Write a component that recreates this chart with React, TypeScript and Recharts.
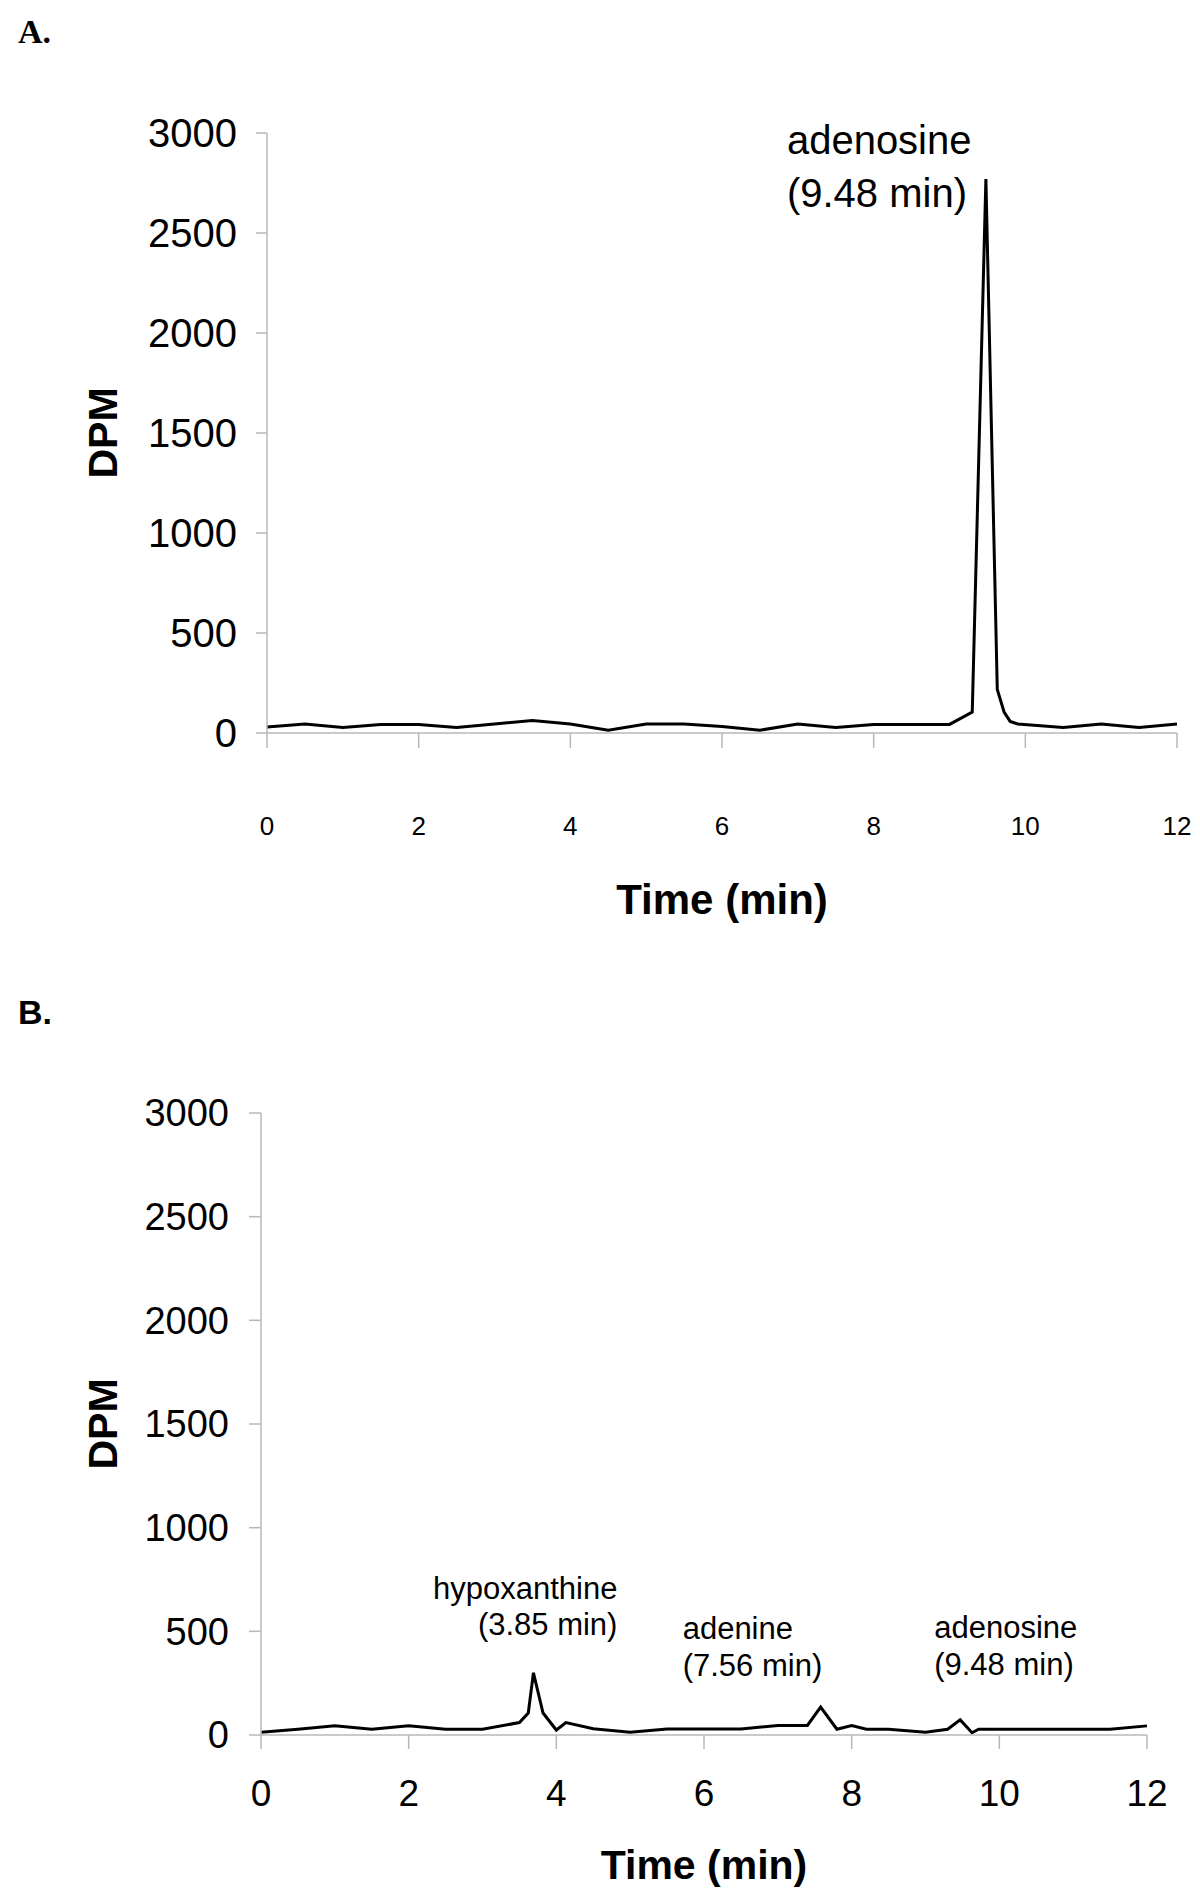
import React from 'react';
import { LineChart, Line, XAxis, YAxis, ReferenceDot, Label } from 'recharts';

const FONT = '"Liberation Sans", Arial, sans-serif';

// Panel A: time (min) and DPM
const timesA = [0, 0.5, 1, 1.5, 2, 2.5, 3, 3.5, 4, 4.5, 5, 5.5, 6, 6.5, 7, 7.5, 8, 8.5, 9, 9.3, 9.48, 9.63, 9.72, 9.8, 9.9, 10.5, 11, 11.5, 12];
const dpmA = [30, 45, 28, 43, 43, 28, 45, 62, 45, 14, 45, 45, 33, 14, 45, 28, 43, 43, 43, 105, 2770, 218, 105, 58, 45, 28, 45, 28, 45];

// Panel B: time (min) and DPM
const timesB = [0, 0.5, 1, 1.5, 2, 2.5, 3, 3.5, 3.62, 3.69, 3.82, 4.0, 4.13, 4.5, 5, 5.5, 6, 6.5, 7, 7.4, 7.58, 7.8, 8, 8.2, 8.5, 9, 9.3, 9.47, 9.63, 9.72, 10, 10.5, 11, 11.5, 12];
const dpmB = [13, 28, 44, 28, 44, 28, 28, 60, 106, 300, 106, 24, 60, 30, 13, 29, 29, 29, 46, 46, 135, 28, 46, 28, 28, 13, 28, 73, 11, 28, 28, 28, 28, 28, 44];

const xTicks = [0, 2, 4, 6, 8, 10, 12];
const yTicks = [0, 500, 1000, 1500, 2000, 2500, 3000];

// Annotations: peak position and text lines
const annA = [{ t: 9.48, v: 2770, lines: ['adenosine', '(9.48 min)'] }];
const annB = [
  { t: 3.69, v: 300, lines: ['hypoxanthine', '(3.85 min)'] },
  { t: 7.58, v: 135, lines: ['adenine', '(7.56 min)'] },
  { t: 9.47, v: 73, lines: ['adenosine', '(9.48 min)'] },
];

const dataA = timesA.map((t, i) => ({ t, dpm: dpmA[i] }));
const dataB = timesB.map((t, i) => ({ t, dpm: dpmB[i] }));

const AXIS_COLOR = '#b8b8b8';

const annOffsetsB = [
  { dx: 84, dy1: -84, dy2: -48, anchor: 'end' },
  { dx: -138, dy1: -79, dy2: -42, anchor: 'start' },
  { dx: -26, dy1: -92, dy2: -55, anchor: 'start' },
];

export default function App() {
  return (
    <div style={{ position: 'absolute', left: 0, top: 0, width: 1200, height: 1893, background: '#fff', fontFamily: FONT }}>
      <div style={{ position: 'absolute', left: 18, top: 12, fontFamily: '"Liberation Serif", "Times New Roman", serif', fontWeight: 'bold', fontSize: 34, lineHeight: '40px' }}>A.</div>
      <div style={{ position: 'absolute', left: 18, top: 992, fontFamily: FONT, fontWeight: 'bold', fontSize: 34, lineHeight: '40px' }}>B.</div>

      <div style={{ position: 'absolute', left: 0, top: 0 }}>
        <LineChart width={1200} height={950} data={dataA} margin={{ top: 133, right: 23, bottom: 0, left: 0 }}>
          <XAxis
            dataKey="t"
            type="number"
            domain={[0, 12]}
            ticks={xTicks}
            height={217}
            stroke={AXIS_COLOR}
            strokeWidth={1.5}
            tickSize={15}
            tickMargin={69}
            tick={{ fill: '#000', fontSize: 26, fontFamily: FONT }}
          >
            <Label
              content={(p: any) => {
                const vb = p.viewBox;
                return (
                  <text x={vb.x + vb.width / 2} y={vb.y + 166} textAnchor="middle" dominantBaseline="central" fontSize={42} fontWeight="bold" fontFamily={FONT} fill="#000">
                    Time (min)
                  </text>
                );
              }}
            />
          </XAxis>
          <YAxis
            type="number"
            domain={[0, 3000]}
            ticks={yTicks}
            width={267}
            stroke={AXIS_COLOR}
            strokeWidth={1.5}
            tickSize={11}
            tickMargin={19}
            tick={{ fill: '#000', fontSize: 40, fontFamily: FONT }}
          >
            <Label
              content={(p: any) => {
                const vb = p.viewBox;
                const cy = vb.y + vb.height / 2;
                return (
                  <text x={103} y={cy} transform={`rotate(-90 103 ${cy})`} textAnchor="middle" dominantBaseline="central" fontSize={41} fontWeight="bold" fontFamily={FONT} fill="#000">
                    DPM
                  </text>
                );
              }}
            />
          </YAxis>
          <Line type="linear" dataKey="dpm" stroke="#000" strokeWidth={3} dot={false} isAnimationActive={false} />
          {annA.map((a, i) => (
            <ReferenceDot
              key={i}
              x={a.t}
              y={a.v}
              ifOverflow="visible"
              shape={(p: any) => (
                <g>
                  <text x={p.cx - 199} y={p.cy - 39} textAnchor="start" dominantBaseline="central" fontSize={40} fontFamily={FONT} fill="#000">{a.lines[0]}</text>
                  <text x={p.cx - 199} y={p.cy + 14} textAnchor="start" dominantBaseline="central" fontSize={40} fontFamily={FONT} fill="#000">{a.lines[1]}</text>
                </g>
              )}
            />
          ))}
        </LineChart>
      </div>

      <div style={{ position: 'absolute', left: 0, top: 950 }}>
        <LineChart width={1200} height={943} data={dataB} margin={{ top: 163, right: 53, bottom: 0, left: 0 }}>
          <XAxis
            dataKey="t"
            type="number"
            domain={[0, 12]}
            ticks={xTicks}
            height={158}
            stroke={AXIS_COLOR}
            strokeWidth={1.5}
            tickSize={14}
            tickMargin={31}
            tick={{ fill: '#000', fontSize: 37, fontFamily: FONT }}
          >
            <Label
              content={(p: any) => {
                const vb = p.viewBox;
                return (
                  <text x={vb.x + vb.width / 2} y={vb.y + 130} textAnchor="middle" dominantBaseline="central" fontSize={41} fontWeight="bold" fontFamily={FONT} fill="#000">
                    Time (min)
                  </text>
                );
              }}
            />
          </XAxis>
          <YAxis
            type="number"
            domain={[0, 3000]}
            ticks={yTicks}
            width={261}
            stroke={AXIS_COLOR}
            strokeWidth={1.5}
            tickSize={12}
            tickMargin={20}
            tick={{ fill: '#000', fontSize: 38, fontFamily: FONT }}
          >
            <Label
              content={(p: any) => {
                const vb = p.viewBox;
                const cy = vb.y + vb.height / 2;
                return (
                  <text x={103} y={cy} transform={`rotate(-90 103 ${cy})`} textAnchor="middle" dominantBaseline="central" fontSize={41} fontWeight="bold" fontFamily={FONT} fill="#000">
                    DPM
                  </text>
                );
              }}
            />
          </YAxis>
          <Line type="linear" dataKey="dpm" stroke="#000" strokeWidth={3} dot={false} isAnimationActive={false} />
          {annB.map((a, i) => {
            const o = annOffsetsB[i];
            return (
              <ReferenceDot
                key={i}
                x={a.t}
                y={a.v}
                ifOverflow="visible"
                shape={(p: any) => (
                  <g>
                    <text x={p.cx + o.dx} y={p.cy + o.dy1} textAnchor={o.anchor as any} dominantBaseline="central" fontSize={31} fontFamily={FONT} fill="#000">{a.lines[0]}</text>
                    <text x={p.cx + o.dx} y={p.cy + o.dy2} textAnchor={o.anchor as any} dominantBaseline="central" fontSize={31} fontFamily={FONT} fill="#000">{a.lines[1]}</text>
                  </g>
                )}
              />
            );
          })}
        </LineChart>
      </div>
    </div>
  );
}
